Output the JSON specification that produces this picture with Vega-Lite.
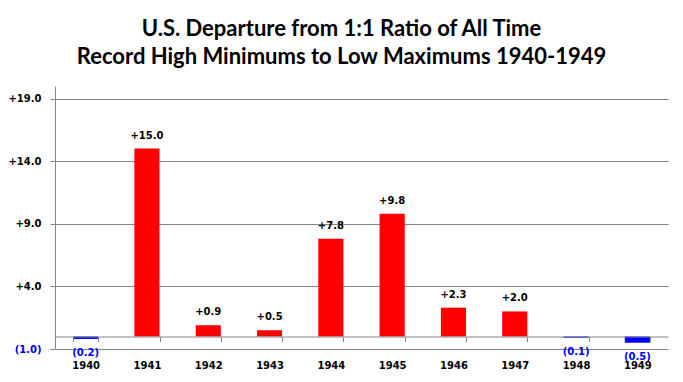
{
  "$schema": "https://vega.github.io/schema/vega-lite/v6.json",
  "width": 613,
  "height": 263,
  "autosize": {"type": "none"},
  "padding": {"left": 55, "top": 86, "right": 15, "bottom": 33},
  "background": "white",
  "title": {
    "text": ["U.S. Departure from 1:1 Ratio of All Time", "Record High Minimums  to Low Maximums 1940-1949"],
    "font": "Lato",
    "fontWeight": "bold",
    "fontSize": 22,
    "lineHeight": 28,
    "color": "black",
    "anchor": "middle",
    "dx": -20,
    "offset": 17
  },
  "data": {
    "values": [
      {"year": "1940", "value": -0.2},
      {"year": "1941", "value": 15.0},
      {"year": "1942", "value": 0.9},
      {"year": "1943", "value": 0.5},
      {"year": "1944", "value": 7.8},
      {"year": "1945", "value": 9.8},
      {"year": "1946", "value": 2.3},
      {"year": "1947", "value": 2.0},
      {"year": "1948", "value": -0.1},
      {"year": "1949", "value": -0.5}
    ]
  },
  "transform": [
    {"calculate": "datum.value >= 0 ? '+' + format(datum.value, '.1f') : '(' + format(-datum.value, '.1f') + ')'", "as": "label"}
  ],
  "encoding": {
    "x": {
      "field": "year",
      "type": "ordinal",
      "scale": {"paddingInner": 0.59, "paddingOuter": 0.295},
      "axis": {
        "title": null,
        "offset": -12.5,
        "zindex": 1,
        "labelAngle": 0,
        "domainColor": "#868686",
        "tickColor": "#868686",
        "tickSize": 5,
        "tickBand": "extent",
        "labelPadding": 19,
        "labelFont": "DejaVu Sans",
        "labelFontWeight": "bold",
        "labelFontSize": 10,
        "labelColor": "black",
        "grid": false
      }
    },
    "y": {
      "field": "value",
      "type": "quantitative",
      "scale": {"domain": [-1, 20], "nice": false, "zero": false},
      "axis": {
        "title": null,
        "values": [-1, 4, 9, 14, 19],
        "labelExpr": "datum.value < 0 ? '(' + format(-datum.value, '.1f') + ')' : '+' + format(datum.value, '.1f')",
        "labelColor": {"condition": {"test": "datum.value < 0", "value": "#0000FF"}, "value": "black"},
        "labelFont": "DejaVu Sans",
        "labelFontWeight": "bold",
        "labelFontSize": 10,
        "labelPadding": 9,
        "domainColor": "#868686",
        "tickColor": "#868686",
        "tickSize": 5,
        "grid": true,
        "gridColor": "#868686",
        "gridOpacity": 1
      }
    }
  },
  "layer": [
    {
      "mark": {"type": "bar"},
      "encoding": {
        "y2": {"datum": 0},
        "color": {"condition": {"test": "datum.value >= 0", "value": "#FF0000"}, "value": "#0000FF"}
      }
    },
    {
      "transform": [{"filter": "datum.value >= 0"}],
      "mark": {"type": "text", "baseline": "middle", "dy": -13, "font": "DejaVu Sans", "fontWeight": "bold", "fontSize": 10, "color": "black"},
      "encoding": {"text": {"field": "label"}}
    },
    {
      "transform": [{"filter": "datum.value < 0"}],
      "mark": {"type": "text", "baseline": "middle", "dy": 14, "font": "DejaVu Sans", "fontWeight": "bold", "fontSize": 10, "color": "#0000FF"},
      "encoding": {"text": {"field": "label"}}
    }
  ],
  "config": {"view": {"stroke": null}}
}
